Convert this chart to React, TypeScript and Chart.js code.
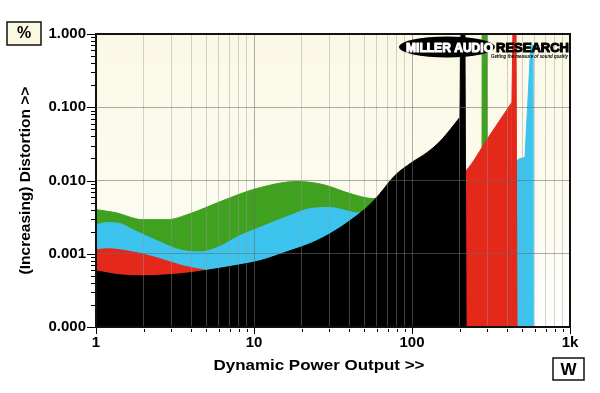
import React, { useEffect, useRef } from 'react';
import { Chart, registerables } from 'chart.js';

Chart.register(...registerables);

// ---- axis ticks ----
const xTickValues = [1, 2, 3, 4, 5, 6, 7, 8, 9, 10, 20, 30, 40, 50, 60, 70, 80, 90, 100, 200, 300, 400, 500, 600, 700, 800, 900, 1000];
const xTickLabels = ['1', '', '', '', '', '', '', '', '', '10', '', '', '', '', '', '', '', '', '100', '', '', '', '', '', '', '', '', '1k'];
const yTickValues = [
  0.0001, 0.0002, 0.0003, 0.0004, 0.0005, 0.0006, 0.0007, 0.0008, 0.0009,
  0.001, 0.002, 0.003, 0.004, 0.005, 0.006, 0.007, 0.008, 0.009,
  0.01, 0.02, 0.03, 0.04, 0.05, 0.06, 0.07, 0.08, 0.09,
  0.1, 0.2, 0.3, 0.4, 0.5, 0.6, 0.7, 0.8, 0.9, 1,
];
const yTickLabels = [
  '0.000', '', '', '', '', '', '', '', '',
  '0.001', '', '', '', '', '', '', '', '',
  '0.010', '', '', '', '', '', '', '', '',
  '0.100', '', '', '', '', '', '', '', '', '1.000',
];

// ---- series (power in W, distortion in %) ----
// smooth parts
const greenW = [1, 1.32, 1.98, 2.81, 3.94, 6.36, 10.4, 18.7, 27.3, 40.5, 56.6, 70, 100, 200, 240, 270];
const greenPct = [0.004, 0.00365, 0.00292, 0.00292, 0.00353, 0.00532, 0.00777, 0.0097, 0.0088, 0.00664, 0.00567, 0.007, 0.012, 0.012, 0.012, 0.02];
// clipping spike
const greenSpikeW = [277, 278, 297, 298];
const greenSpikePct = [0.0001, 2, 2, 0.0001];

const cyanW = [1, 1.17, 1.42, 1.71, 2.43, 3.4, 4.55, 5.83, 8.15, 10.4, 16.9, 22.6, 30.3, 40.5, 44.9, 60, 100, 200, 300, 440, 462, 519];
const cyanPct = [0.0025, 0.00266, 0.00258, 0.00213, 0.00151, 0.00113, 0.00106, 0.00121, 0.00177, 0.0022, 0.00332, 0.00413, 0.00427, 0.00376, 0.0036, 0.0045, 0.009, 0.012, 0.013, 0.016, 0.0188, 0.0207];
const cyanSpikeW = [519, 566, 575, 583];
const cyanSpikePct = [0.0207, 0.78, 0.7, 0.0001];

const redW = [1, 1.17, 1.71, 2.43, 3.55, 4.75, 6, 10, 20, 40, 80, 150, 210, 220, 300, 429];
const redPct = [0.00113, 0.00117, 0.00106, 0.00088, 0.000685, 0.000604, 0.00055, 0.00066, 0.0011, 0.0025, 0.009, 0.012, 0.013, 0.0137, 0.037, 0.117];
const redSpikeW = [429, 437, 455, 462];
const redSpikePct = [0.117, 2, 2, 0.0001];

const blackW = [1, 1.42, 1.98, 2.81, 3.94, 5.27, 8.15, 10.9, 16.9, 22.6, 30.3, 40.5, 54.2, 62.7, 78, 100, 125, 150, 175, 201];
const blackPct = [0.000585, 0.000515, 0.0005, 0.000515, 0.00055, 0.000604, 0.000707, 0.000802, 0.0011, 0.00137, 0.00188, 0.00283, 0.00469, 0.00664, 0.0117, 0.0177, 0.0242, 0.034, 0.05, 0.073];
const blackSpikeW = [201, 205, 216, 220];
const blackSpikePct = [0.073, 2, 2, 0.0001];

const FONT = "'Liberation Sans', Arial, Helvetica, sans-serif";

function mk(label: string, xs: number[], ys: number[], color: string, order: number, smooth: boolean) {
  return {
    label,
    data: xs.map((x, i) => ({ x, y: ys[i] })),
    backgroundColor: color,
    borderColor: color,
    borderWidth: 1,
    pointRadius: 0,
    fill: 'start',
    tension: 0,
    cubicInterpolationMode: smooth ? 'monotone' : 'default',
    order,
  };
}

function fitText(ctx: CanvasRenderingContext2D, text: string, x: number, y: number, w: number, align: 'left' | 'center' = 'left', heavy = 0) {
  const m = ctx.measureText(text).width;
  const s = w / m;
  ctx.save();
  ctx.translate(x, y);
  ctx.scale(s, 1);
  ctx.textAlign = align;
  ctx.fillText(text, 0, 0);
  if (heavy > 0) {
    ctx.lineWidth = heavy;
    ctx.strokeStyle = ctx.fillStyle as string;
    ctx.lineJoin = 'round';
    ctx.strokeText(text, 0, 0);
  }
  ctx.restore();
}

const decor = {
  id: 'decor',
  beforeDraw(chart: any) {
    const { ctx, chartArea: a } = chart;
    const g = ctx.createLinearGradient(0, a.top, 0, a.bottom);
    g.addColorStop(0, '#fbf9e5');
    g.addColorStop(0.6, '#fcfbef');
    g.addColorStop(1, '#ffffff');
    ctx.save();
    ctx.fillStyle = g;
    ctx.fillRect(a.left, a.top, a.right - a.left, a.bottom - a.top);
    ctx.restore();
  },
  afterDraw(chart: any) {
    const { ctx, chartArea: a } = chart;
    const xs = chart.scales.x;
    const ys = chart.scales.y;
    ctx.save();
    // frame
    ctx.strokeStyle = '#111';
    ctx.lineWidth = 2;
    ctx.strokeRect(a.left, a.top, a.right - a.left, a.bottom - a.top);
    // tick marks
    ctx.lineWidth = 1;
    ctx.strokeStyle = '#000';
    ctx.beginPath();
    xTickValues.forEach((v, i) => {
      const px = Math.round(xs.getPixelForValue(v)) + 0.5;
      const major = xTickLabels[i] !== '';
      ctx.moveTo(px, a.bottom + (major ? 1 : 2));
      ctx.lineTo(px, a.bottom + (major ? 7 : 5));
    });
    yTickValues.forEach((v, i) => {
      const py = Math.round(ys.getPixelForValue(v)) + 0.5;
      const major = yTickLabels[i] !== '';
      ctx.moveTo(a.left - (major ? 9 : 5), py);
      ctx.lineTo(a.left - 1, py);
    });
    ctx.stroke();

    // x axis title
    ctx.fillStyle = '#000';
    ctx.font = `bold 15px ${FONT}`;
    ctx.textBaseline = 'middle';
    fitText(ctx, 'Dynamic Power Output >>', 319, 366, 211, 'center');

    // unit boxes
    ctx.lineWidth = 1.5;
    ctx.strokeStyle = '#111';
    ctx.fillStyle = '#fbf8e2';
    ctx.fillRect(7, 22, 34, 23);
    ctx.strokeRect(7, 22, 34, 23);
    ctx.fillStyle = '#fff';
    ctx.fillRect(553, 358, 31, 22);
    ctx.strokeRect(553, 358, 31, 22);
    ctx.fillStyle = '#000';
    ctx.font = `bold 16px ${FONT}`;
    ctx.textAlign = 'center';
    ctx.fillText('%', 24, 34);
    ctx.font = `bold 17px ${FONT}`;
    ctx.fillText('W', 568.5, 370);

    // logo
    ctx.fillStyle = '#000';
    ctx.beginPath();
    ctx.ellipse(447, 47, 48, 10.5, 0, 0, Math.PI * 2);
    ctx.fill();
    ctx.textBaseline = 'alphabetic';
    ctx.font = `bold 13px ${FONT}`;
    ctx.fillStyle = '#ffffff';
    fitText(ctx, 'MILLER AUDIO', 406, 51.5, 87, 'left', 1.1);
    ctx.fillStyle = '#000000';
    fitText(ctx, 'RESEARCH', 496, 51.5, 73, 'left', 1.1);
    ctx.font = `italic bold 6px ${FONT}`;
    fitText(ctx, 'Getting the measure of sound quality', 491, 58, 77);
    ctx.restore();
  },
};

export default function App() {
  const ref = useRef<HTMLCanvasElement>(null);
  useEffect(() => {
    document.body.style.margin = '0';
    const canvas = ref.current!;
    const gridMajor = 'rgba(105,105,105,0.55)';
    const gridMinor = 'rgba(150,150,150,0.42)';
    const BLACK = '#000000';
    const RED = '#e4291a';
    const CYAN = '#3cc4ef';
    const GREEN = '#40a020';
    const chart = new Chart(canvas, {
      type: 'line',
      data: {
        datasets: [
          mk('black', blackW, blackPct, BLACK, 0, true),
          mk('black clip', blackSpikeW, blackSpikePct, BLACK, 0, false),
          mk('red', redW, redPct, RED, 1, true),
          mk('red clip', redSpikeW, redSpikePct, RED, 1, false),
          mk('cyan', cyanW, cyanPct, CYAN, 2, true),
          mk('cyan clip', cyanSpikeW, cyanSpikePct, CYAN, 2, false),
          mk('green', greenW, greenPct, GREEN, 3, true),
          mk('green clip', greenSpikeW, greenSpikePct, GREEN, 3, false),
        ] as any,
      },
      options: {
        responsive: false,
        animation: false,
        devicePixelRatio: 1,
        layout: { padding: { top: 34, right: 30, left: 0, bottom: 0 } },
        plugins: { legend: { display: false }, tooltip: { enabled: false } },
        scales: {
          x: {
            type: 'logarithmic',
            min: 1,
            max: 1000,
            afterBuildTicks: (s: any) => {
              s.ticks = xTickValues.map((v) => ({ value: v }));
            },
            afterFit: (s: any) => {
              s.height = 66;
            },
            ticks: {
              autoSkip: false,
              maxRotation: 0,
              padding: 7,
              color: '#000',
              font: { family: FONT, size: 15, weight: 'bold' },
              callback: (_v: any, i: number) => xTickLabels[i],
            },
            grid: {
              z: 1,
              drawTicks: false,
              lineWidth: 1,
              color: (c: any) => (xTickLabels[c.index] ? gridMajor : gridMinor),
            },
            border: { display: false },
          },
          y: {
            type: 'logarithmic',
            min: 0.0001,
            max: 1,
            afterBuildTicks: (s: any) => {
              s.ticks = yTickValues.map((v) => ({ value: v }));
            },
            afterFit: (s: any) => {
              s.width = 96;
            },
            ticks: {
              autoSkip: false,
              padding: 10,
              color: '#000',
              font: { family: FONT, size: 15, weight: 'bold' },
              callback: (_v: any, i: number) => yTickLabels[i],
            },
            grid: {
              z: 1,
              drawTicks: false,
              lineWidth: 1,
              color: (c: any) => (yTickLabels[c.index] ? gridMajor : 'rgba(0,0,0,0)'),
            },
            border: { display: false },
            title: {
              display: true,
              text: '(Increasing) Distortion >>',
              color: '#000',
              font: { family: FONT, size: 15.5, weight: 'bold' },
              padding: { top: 16, bottom: 0 },
            },
          },
        },
      } as any,
      plugins: [decor],
    });
    return () => chart.destroy();
  }, []);
  return (
    <div style={{ width: 600, height: 393 }}>
      <canvas ref={ref} width={600} height={393} style={{ display: 'block' }} />
    </div>
  );
}
